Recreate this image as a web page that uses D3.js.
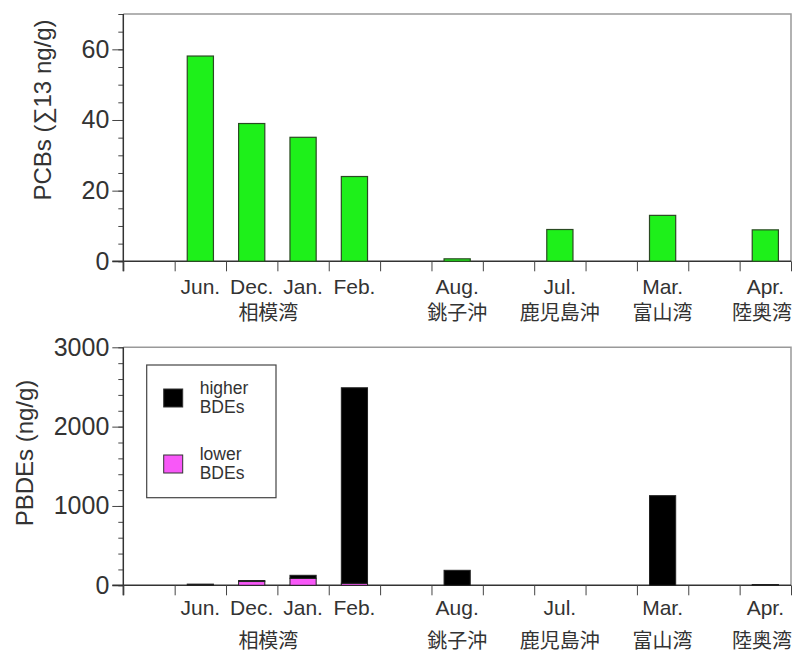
<!DOCTYPE html>
<html lang="ja">
<head>
<meta charset="utf-8">
<title>PCBs / PBDEs</title>
<style>
html,body{margin:0;padding:0;background:#fff;}
svg{display:block;}
text{font-family:"Liberation Sans","Noto Sans CJK JP",sans-serif;fill:#333;}
.jp{font-family:"Noto Sans CJK JP",sans-serif;}
.axis path{display:none;}
.axis line{stroke:#444;}
</style>
</head>
<body>
<svg id="chart" width="795" height="657"></svg>
<script src="https://cdn.jsdelivr.net/npm/d3@7"></script>
<script>
/* ---------- data ---------- */
// 13 slots along x; "_n" are empty gaps between sites
const slots    = ["_0","Jun.","Dec.","Jan.","Feb.","_1","Aug.","_2","Jul.","_3","Mar.","_4","Apr."];
const months   = ["Jun.","Dec.","Jan.","Feb.","Aug.","Jul.","Mar.","Apr."];
const sites    = ["相模湾","銚子沖","鹿児島沖","富山湾","陸奥湾"];
const siteOf   = ["相模湾","相模湾","相模湾","相模湾","銚子沖","鹿児島沖","富山湾","陸奥湾"];
const pcbs     = [58.1, 39.0, 35.1, 24.0, 0.7, 9.0, 13.0, 8.9];
const lowerBDE = [0, 52, 88, 25, 0, 0, 0, 0];
const higherBDE= [15, 8, 38, 2465, 189, 0, 1130, 10];
const seriesNames = ["higher\nBDEs","lower\nBDEs"];
const seriesColors= ["#000000","#f858f8"];
const pcbTicks  = [0,20,40,60];
const pbdeTicks = [0,1000,2000,3000];

/* ---------- layout ---------- */
const svg = d3.select('#chart');
const W = 795;
const X0 = 123.3, X1 = 791;
const x = d3.scaleBand().domain(slots).range([X0, X1]).paddingInner(0.49).paddingOuter(0.245);
const xEdge = d3.scaleLinear().domain([0, slots.length]).range([X0, X1]);

function panel(top, bottom, ymax, major, minorStep){
  const y = d3.scaleLinear().domain([0, ymax]).range([bottom, top]);
  const g = svg.append('g');
  // grey frame (top, right)
  g.append('path').attr('d', `M${X0},${top}H${X1}V${bottom}`)
    .attr('fill','none').attr('stroke','#999').attr('stroke-width',1.5);
  // minor ticks
  g.append('g').attr('class','axis').attr('transform',`translate(${X0},0)`)
    .call(d3.axisLeft(y).tickValues(d3.range(0, ymax + 0.001, minorStep)).tickSize(5).tickFormat(''))
    .selectAll('line').attr('stroke','#999');
  // major ticks + labels
  const ya = g.append('g').attr('class','axis').attr('transform',`translate(${X0},0)`)
    .call(d3.axisLeft(y).tickValues(major).tickSize(11).tickPadding(3).tickFormat(d3.format('d')));
  ya.selectAll('text').attr('font-size',25).style('font-family','"Liberation Sans",sans-serif').attr('fill','#333');
  // axis lines
  g.append('line').attr('x1',X0).attr('x2',X0).attr('y1',top).attr('y2',bottom + 10)
    .attr('stroke','#333').attr('stroke-width',1.5);
  g.append('line').attr('x1',X0 - 11).attr('x2',X1).attr('y1',bottom).attr('y2',bottom)
    .attr('stroke','#333').attr('stroke-width',1.5);
  // slot boundary ticks under the axis
  g.append('g').attr('class','axis').attr('transform',`translate(0,${bottom})`)
    .call(d3.axisBottom(xEdge).tickValues(d3.range(0, slots.length + 1)).tickSize(10).tickFormat(''))
    .selectAll('line').attr('stroke','#555');
  return {g, y};
}

/* ---------- PCBs ---------- */
const p1 = panel(14, 261.3, 70, pcbTicks, 5);
p1.g.selectAll('rect.bar').data(months).join('rect').attr('class','bar')
  .attr('x', d => x(d)).attr('width', x.bandwidth())
  .attr('y', (d,i) => p1.y(pcbs[i])).attr('height', (d,i) => p1.y(0) - p1.y(pcbs[i]))
  .attr('fill','#1ef01a').attr('stroke','#2a4a22').attr('stroke-width',1.2);

/* ---------- PBDEs ---------- */
const p2 = panel(347.3, 585.3, 3000, pbdeTicks, 200);
const rows = months.map((m,i) => ({m, lower: lowerBDE[i], higher: higherBDE[i]}));
const stacked = d3.stack().keys(['lower','higher'])(rows);
const colorOf = {lower: seriesColors[1], higher: seriesColors[0]};
p2.g.selectAll('g.layer').data(stacked).join('g').attr('class','layer')
  .attr('fill', s => colorOf[s.key])
  .selectAll('rect').data(s => s.filter(d => d[1] > d[0])).join('rect')
  .attr('x', d => x(d.data.m)).attr('width', x.bandwidth())
  .attr('y', d => p2.y(d[1])).attr('height', d => Math.max(1, p2.y(d[0]) - p2.y(d[1])))
  .attr('stroke','#222').attr('stroke-width',1);

/* ---------- x labels ---------- */
// keep a centred label inside the page
function fit(sel){
  sel.each(function(){
    const t = d3.select(this), w = this.getComputedTextLength(), cx = +t.attr('x');
    if (cx + w/2 > W - 3) t.attr('text-anchor','end').attr('x', W - 3);
  });
}
function xLabels(monthY, siteY){
  svg.append('g').selectAll('text').data(months).join('text')
    .attr('x', d => x(d) + x.bandwidth()/2).attr('y', monthY)
    .attr('text-anchor','middle').attr('font-size',21).text(d => d).call(fit);
  svg.append('g').selectAll('text').data(sites).join('text').attr('class','jp')
    .attr('x', s => {
      const ms = months.filter((m,i) => siteOf[i] === s);
      return d3.mean(ms, m => x(m) + x.bandwidth()/2) - (ms.length > 1 ? 9 : 0);
    })
    .attr('y', siteY).attr('text-anchor','middle').attr('font-size',20)
    .attr('fill','#333').text(d => d).call(fit);
}
xLabels(294, 320);
xLabels(615, 648);

/* ---------- axis titles ---------- */
svg.append('text').attr('transform','translate(51,110) rotate(-90)')
  .attr('text-anchor','middle').attr('font-size',24).text('PCBs (∑13 ng/g)');
svg.append('text').attr('transform','translate(33,453) rotate(-90)')
  .attr('text-anchor','middle').attr('font-size',24).text('PBDEs (ng/g)');

/* ---------- legend ---------- */
const lg = svg.append('g').attr('transform','translate(146.7,365)');
lg.append('rect').attr('width',129.3).attr('height',132.7)
  .attr('fill','#fff').attr('stroke','#444').attr('stroke-width',1.2);
const item = lg.selectAll('g.item').data(seriesNames).join('g').attr('class','item')
  .attr('transform',(d,i) => `translate(17,${24 + i*66})`);
item.append('rect').attr('width',19).attr('height',18)
  .attr('fill',(d,i) => seriesColors[i]).attr('stroke','#333').attr('stroke-width',1);
item.append('text').attr('x',36).attr('y',5).attr('font-size',17.5)
  .selectAll('tspan').data(d => d.split('\n')).join('tspan')
  .attr('x',36).attr('dy',(d,i) => i ? 19 : 0).text(d => d);
</script>
</body>
</html>
